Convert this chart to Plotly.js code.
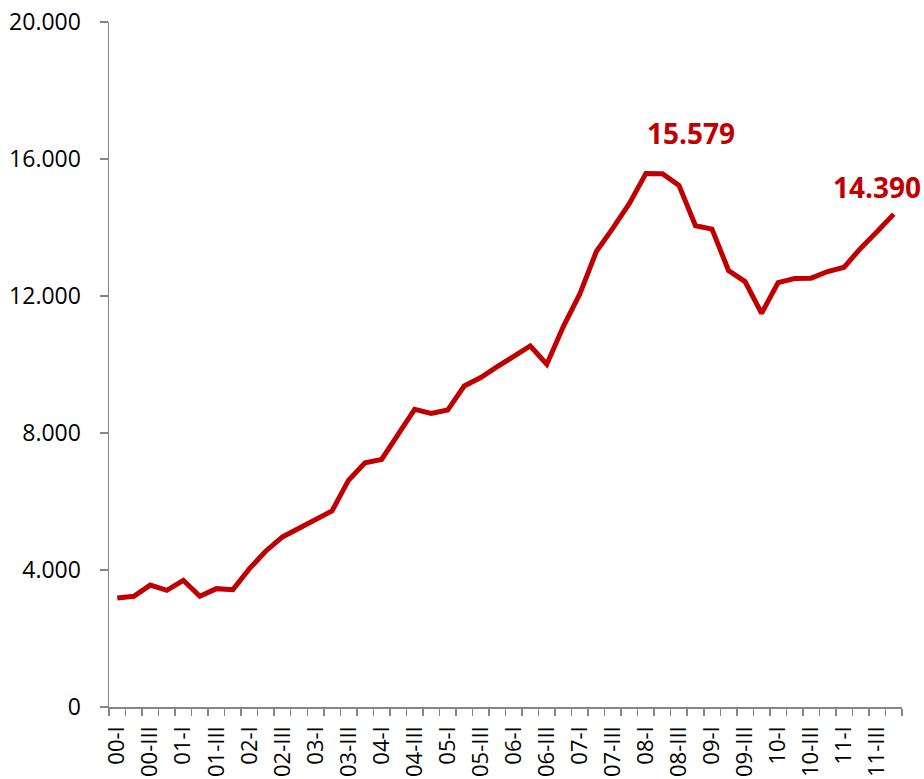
<!DOCTYPE html>
<html>
<head>
<meta charset="utf-8">
<script src="https://cdn.plot.ly/plotly-3.0.1.min.js"></script>
<style>
html,body{margin:0;padding:0;background:#fff;}
#chart{width:924px;height:779px;}
</style>
</head>
<body>
<div id="chart"></div>
<script>
// Quarter labels 2000-I .. 2011-IV
const quarters = [
  "00-I","00-II","00-III","00-IV",
  "01-I","01-II","01-III","01-IV",
  "02-I","02-II","02-III","02-IV",
  "03-I","03-II","03-III","03-IV",
  "04-I","04-II","04-III","04-IV",
  "05-I","05-II","05-III","05-IV",
  "06-I","06-II","06-III","06-IV",
  "07-I","07-II","07-III","07-IV",
  "08-I","08-II","08-III","08-IV",
  "09-I","09-II","09-III","09-IV",
  "10-I","10-II","10-III","10-IV",
  "11-I","11-II","11-III","11-IV"
];
const values = [
  3181, 3231, 3560, 3406,
  3699, 3231, 3456, 3426,
  4041, 4556, 4965, 5220,
  5473, 5725, 6623, 7130,
  7228, 7977, 8690, 8573,
  8670, 9371, 9620, 9936,
  10258, 10541, 10006, 11106,
  12062, 13299, 13983, 14700,
  15579, 15571, 15229, 14050,
  13953, 12743, 12421, 11497,
  12392, 12509, 12520, 12714,
  12842, 13398, 13883, 14390
];
const yTicks = [0, 4000, 8000, 12000, 16000, 20000];
const labelled = [
  {idx: 32, text: "15.579"},
  {idx: 47, text: "14.390"}
];

const xIdx = quarters.map((q, i) => i);
const shownVals = xIdx.filter(i => i % 2 === 0);
const shownText = shownVals.map(i => quarters[i]);
const boundaries = quarters.map((q, i) => i - 0.5).concat([quarters.length - 0.5]);

const red = "#C00000";
const axisCol = "#868686";
const font = "'Open Sans', 'Liberation Sans', sans-serif";

const trace = {
  type: "scatter",
  mode: "lines",
  x: xIdx,
  y: values,
  line: {color: red, width: 5},
  hoverinfo: "skip"
};

const annotations = [
  {x: 34.7, y: values[labelled[0].idx], xref: "x", yref: "y", text: labelled[0].text, showarrow: false, yshift: 40,
   font: {family: font, size: 28, color: red, weight: 700}},
  {x: 46.0, y: values[labelled[1].idx], xref: "x", yref: "y", text: labelled[1].text, showarrow: false, yshift: 27,
   font: {family: font, size: 28, color: red, weight: 700}}
];

const layout = {
  width: 924, height: 779,
  margin: {l: 109, r: 22, t: 22, b: 72},
  paper_bgcolor: "#fff", plot_bgcolor: "#fff",
  separators: ",.",
  showlegend: false,
  font: {family: font, size: 21, color: "#000"},
  xaxis: {
    range: [-0.5, quarters.length - 0.5],
    tickmode: "array", tickvals: shownVals, ticktext: shownText,
    tickangle: -90, ticks: "", showgrid: false, zeroline: false,
    showline: true, linecolor: axisCol, linewidth: 1.5,
    ticklabelstandoff: 9,
    tickfont: {family: font, size: 22, color: "#000"},
    minor: {tickmode: "array", tickvals: boundaries, ticks: "outside", ticklen: 7, tickcolor: axisCol, tickwidth: 1.5, showgrid: false}
  },
  yaxis: {
    range: [0, 20000],
    tickmode: "array", tickvals: yTicks,
    tickformat: ",d",
    ticks: "outside", ticklen: 8, tickcolor: axisCol, tickwidth: 1.5,
    showline: true, linecolor: axisCol, linewidth: 1.5,
    showgrid: false, zeroline: false,
    ticklabelstandoff: 14,
    tickfont: {family: font, size: 23, color: "#000"}
  },
  annotations: annotations
};

Plotly.newPlot("chart", [trace], layout, {displayModeBar: false, staticPlot: true});
</script>
</body>
</html>
